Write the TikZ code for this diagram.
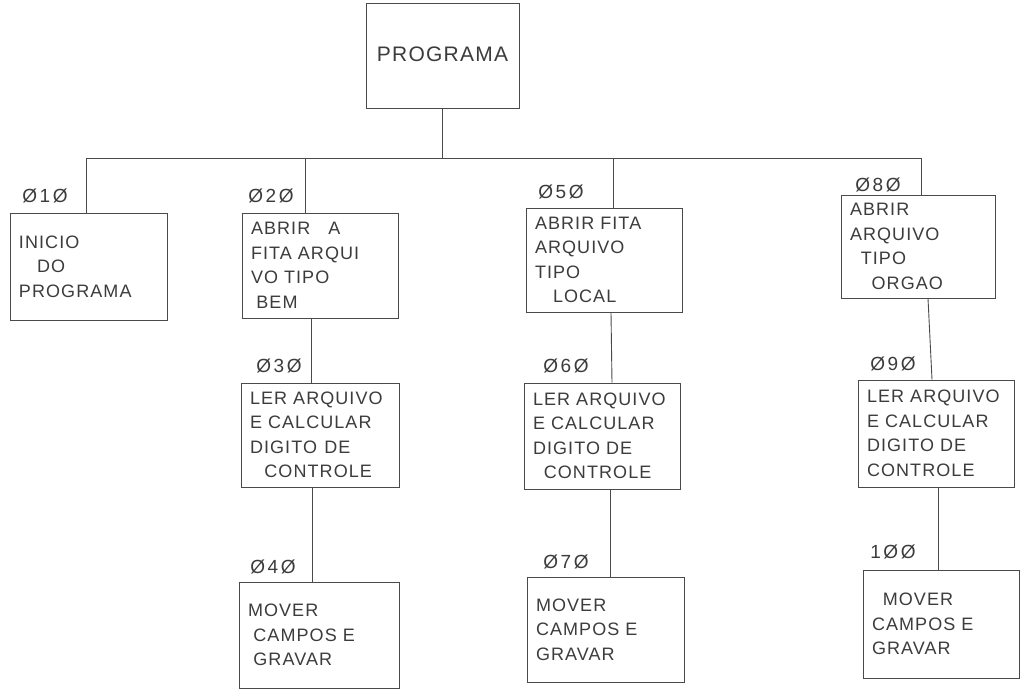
\documentclass[tikz,border=0pt]{standalone}
\usepackage{fontspec}
\setmainfont{Liberation Sans}[LetterSpace=6]
\newfontfamily\lblfont{Liberation Sans}[LetterSpace=14]
\definecolor{ink}{HTML}{4A4A4A}
\definecolor{txt}{HTML}{3C3C3C}
\begin{document}
\begin{tikzpicture}[x=1pt,y=-1pt,
  box/.style={draw=ink,line width=0.9pt,rectangle,inner xsep=9pt,inner ysep=2pt,
    align=left,text=txt,font=\fontsize{18}{24.5}\selectfont},
  lbl/.style={text=txt,font=\lblfont\fontsize{19}{20}\selectfont,inner sep=0pt},
  conn/.style={draw=ink,line width=0.9pt}]
\path[use as bounding box,fill=white] (0,0) rectangle (1026,695);

% top
\node[box,minimum width=153pt,minimum height=105pt,font=\fontsize{21}{24}\selectfont] (prog) at (442.5,56) {\raisebox{4pt}{PROGRAMA}};

% boxes
\node[box,minimum width=157pt,minimum height=107pt,text width=139pt] (b10) at (88.5,266.5) {INICIO\\\hspace{1em}DO\\PROGRAMA\\[2pt]};
\node[box,minimum width=156pt,minimum height=105pt,text width=138pt] (b20) at (320,265.5) {ABRIR\hspace{1em}A\\FITA ARQUI\\VO TIPO\\\hspace{0.3em}BEM};
\node[box,minimum width=158pt,minimum height=104pt,text width=140pt] (b30) at (320,435) {LER ARQUIVO\\E CALCULAR\\DIGITO\hspace{0.4em}DE\\\hspace{0.8em}CONTROLE};
\node[box,minimum width=160pt,minimum height=106pt,text width=142pt] (b40) at (319,635) {MOVER\\\hspace{0.3em}CAMPOS E\\\hspace{0.3em}GRAVAR};

\node[box,minimum width=156pt,minimum height=104pt,text width=138pt] (b50) at (604,260) {ABRIR FITA\\ARQUIVO\\TIPO\\\hspace{1em}LOCAL};
\node[box,minimum width=156pt,minimum height=106pt,text width=138pt] (b60) at (602,436) {LER ARQUIVO\\E CALCULAR\\DIGITO DE\\\hspace{0.6em}CONTROLE};
\node[box,minimum width=157pt,minimum height=105pt,text width=139pt] (b70) at (605.5,629.5) {MOVER\\CAMPOS E\\GRAVAR};

\node[box,minimum width=154pt,minimum height=103pt,text width=136pt] (b80) at (918,246.5) {ABRIR\\ARQUIVO\\\hspace{0.6em}TIPO\\\hspace{1.2em}ORGAO};
\node[box,minimum width=156pt,minimum height=107pt,text width=138pt] (b90) at (936,433.5) {LER ARQUIVO\\E CALCULAR\\DIGITO DE\\CONTROLE};
\node[box,minimum width=156pt,minimum height=108pt,text width=138pt] (b100) at (941,624) {\hspace{0.6em}MOVER\\CAMPOS E\\GRAVAR};

% labels
\node[lbl] (l10) at (45,196) {Ø1Ø};
\node[lbl] (l20) at (271,196) {Ø2Ø};
\node[lbl] (l30) at (279,366) {Ø3Ø};
\node[lbl] (l40) at (273,567) {Ø4Ø};
\node[lbl] (l50) at (561,192) {Ø5Ø};
\node[lbl] (l60) at (566,366) {Ø6Ø};
\node[lbl] (l70) at (566,562) {Ø7Ø};
\node[lbl] (l80) at (878,185) {Ø8Ø};
\node[lbl] (l90) at (893,364) {Ø9Ø};
\node[lbl] (l100) at (893,552) {1ØØ};

% bus
\coordinate (hub) at (442.5,158);
\coordinate (bus1) at (86,158);
\coordinate (bus2) at (305,158);
\coordinate (bus3) at (613,158);
\coordinate (bus4) at (921,158);
\draw[conn] (prog.south) -- (hub);
\draw[conn] (bus1) -- (bus4);
\draw[conn] (bus1) -- (bus1 |- b10.north);
\draw[conn] (bus2) -- (bus2 |- b20.north);
\draw[conn] (bus3) -- (bus3 |- b50.north);
\draw[conn] (bus4) -- (bus4 |- b80.north);

% column links
\draw[conn] ([xshift=-9pt]b20.south) -- ([xshift=-9pt]b20.south |- b30.north);
\draw[conn] ([xshift=-8pt]b30.south) -- ([xshift=-8pt]b30.south |- b40.north);
\draw[conn] ([xshift=7pt]b50.south) -- ([xshift=8pt]b50.south |- b60.north);
\draw[conn] ([xshift=8pt]b60.south) -- ([xshift=8pt]b60.south |- b70.north);
\draw[conn] ([xshift=10pt]b80.south) -- ([xshift=14pt]b80.south |- b90.north);
\draw[conn] ([xshift=2pt]b90.south) -- ([xshift=2pt]b90.south |- b100.north);
\end{tikzpicture}
\end{document}
